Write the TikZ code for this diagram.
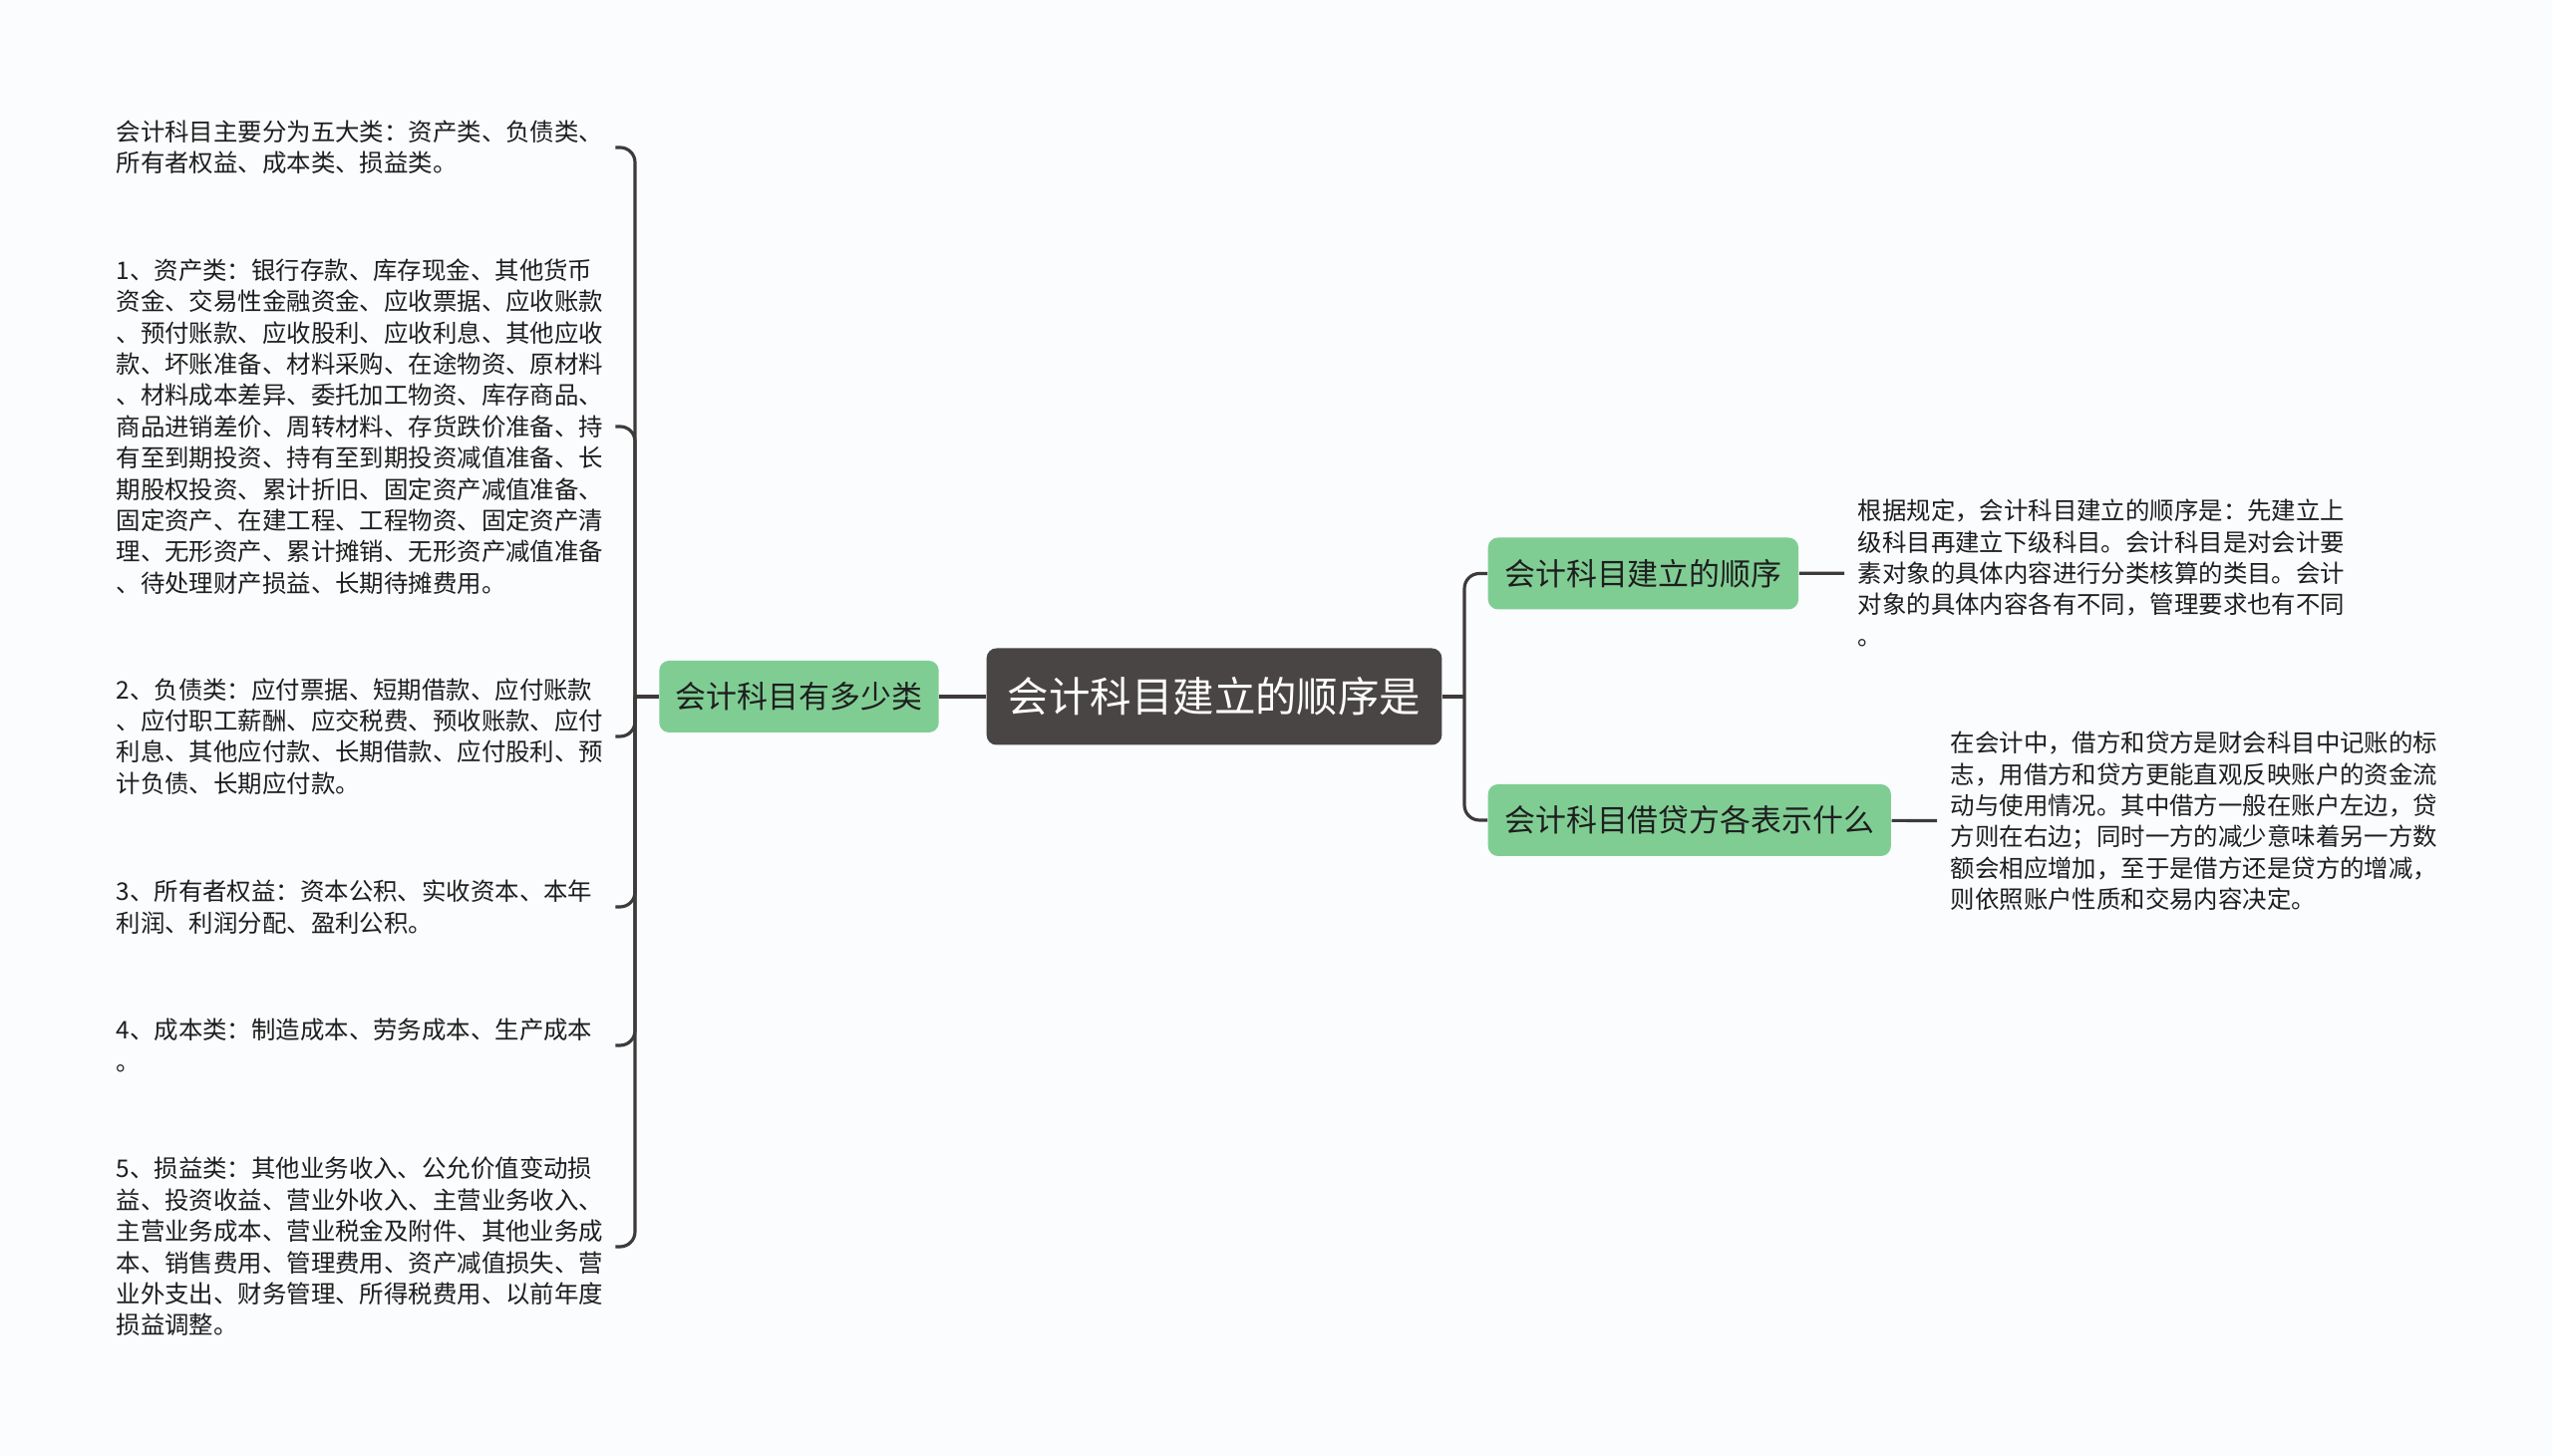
\documentclass[tikz,border=0pt]{standalone}
\usepackage{fontspec}
\setmainfont{Noto Sans CJK SC}
\usetikzlibrary{positioning}
\definecolor{bgcol}{RGB}{250,252,254}
\definecolor{rootcol}{RGB}{74,69,69}
\definecolor{leafgreen}{RGB}{128,205,148}
\definecolor{linecol}{RGB}{62,58,58}
\definecolor{txtcol}{RGB}{30,30,30}
\begin{document}
\begin{tikzpicture}[
		rootbox/.style={fill=rootcol,text=white,rounded corners=0.1cm,minimum height=0.97cm,inner xsep=0.21cm,font={\fontsize{11.8pt}{14pt}\selectfont}},
		branchbox/.style={fill=leafgreen,text=txtcol,rounded corners=0.1cm,minimum height=0.72cm,inner xsep=0.165cm,font={\fontsize{8.8pt}{10pt}\selectfont}},
		leaftext/.style={text=txtcol,align=left,text width=4.88cm,inner xsep=0.12cm,inner ysep=0pt,font={\fontsize{6.95pt}{8.93pt}\selectfont}},
		link/.style={draw=linecol,line width=0.9pt,rounded corners=0.15cm}]
		%%Nền và khung hình
		\fill[bgcol] (0,0) rectangle (25.6,14.61);
		%%Nút gốc và các nhánh
		\node[rootbox] (root) at (12.18,7.62) {会计科目建立的顺序是};
		\node[branchbox] (lb) at (8.015,7.62) {会计科目有多少类};
		\node[branchbox,anchor=west] (rb1) at (14.92,8.855) {会计科目建立的顺序};
		\node[branchbox,anchor=west] (rb2) at (14.92,6.38) {会计科目借贷方各表示什么};
		\coordinate (ljoin) at (6.37,7.62);
		\coordinate (rjoin) at (14.69,7.62);
		%%Các đoạn văn bên trái
		\node[leaftext,anchor=west] (l0) at (1.04,13.13) {会计科目主要分为五大类：资产类、负债类、\\所有者权益、成本类、损益类。};
		\node[leaftext,anchor=west] (l1) at (1.04,10.33) {1、资产类：银行存款、库存现金、其他货币\\资金、交易性金融资金、应收票据、应收账款\\、预付账款、应收股利、应收利息、其他应收\\款、坏账准备、材料采购、在途物资、原材料\\、材料成本差异、委托加工物资、库存商品、\\商品进销差价、周转材料、存货跌价准备、持\\有至到期投资、持有至到期投资减值准备、长\\期股权投资、累计折旧、固定资产减值准备、\\固定资产、在建工程、工程物资、固定资产清\\理、无形资产、累计摊销、无形资产减值准备\\、待处理财产损益、长期待摊费用。};
		\node[leaftext,anchor=west] (l2) at (1.04,7.22) {2、负债类：应付票据、短期借款、应付账款\\、应付职工薪酬、应交税费、预收账款、应付\\利息、其他应付款、长期借款、应付股利、预\\计负债、长期应付款。};
		\node[leaftext,anchor=west] (l3) at (1.04,5.51) {3、所有者权益：资本公积、实收资本、本年\\利润、利润分配、盈利公积。};
		\node[leaftext,anchor=west] (l4) at (1.04,4.12) {4、成本类：制造成本、劳务成本、生产成本\\。};
		\node[leaftext,anchor=west] (l5) at (1.04,2.10) {5、损益类：其他业务收入、公允价值变动损\\益、投资收益、营业外收入、主营业务收入、\\主营业务成本、营业税金及附件、其他业务成\\本、销售费用、管理费用、资产减值损失、营\\业外支出、财务管理、所得税费用、以前年度\\损益调整。};
		%%Các đoạn văn bên phải
		\node[leaftext,anchor=west,inner xsep=0.13cm] (rt1) at (18.50,8.86) {根据规定，会计科目建立的顺序是：先建立上\\级科目再建立下级科目。会计科目是对会计要\\素对象的具体内容进行分类核算的类目。会计\\对象的具体内容各有不同，管理要求也有不同\\。};
		\node[leaftext,anchor=west,inner xsep=0.13cm] (rt2) at (19.43,6.37) {在会计中，借方和贷方是财会科目中记账的标\\志，用借方和贷方更能直观反映账户的资金流\\动与使用情况。其中借方一般在账户左边，贷\\方则在右边；同时一方的减少意味着另一方数\\额会相应增加，至于是借方还是贷方的增减，\\则依照账户性质和交易内容决定。};
		%%Nối các nút
		\draw[link] (lb) -- (root);
		\draw[link] (lb) -- (ljoin);
		\foreach \n in {l0,l1,l2,l3,l4,l5}
		\draw[link] (ljoin) |- (\n);
		\draw[link] (root) -- (rjoin);
		\draw[link] (rjoin) |- (rb1);
		\draw[link] (rjoin) |- (rb2);
		\draw[link] (rb1) -- (rt1);
		\draw[link] (rb2) -- (rt2);
	\end{tikzpicture}
\end{document}
